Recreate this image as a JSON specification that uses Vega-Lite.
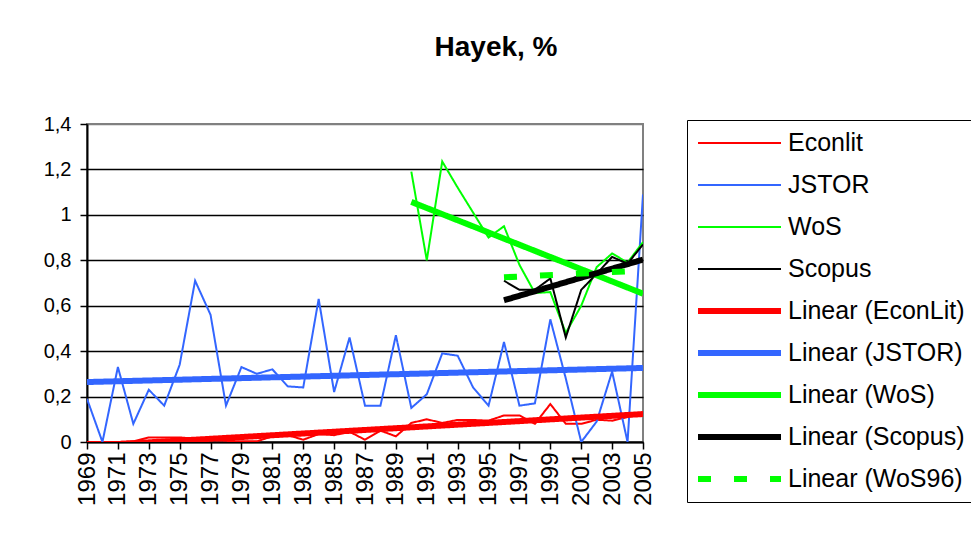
{
  "$schema": "https://vega.github.io/schema/vega-lite/v6.json",
  "autosize": "none",
  "width": 556,
  "height": 318,
  "padding": {"left": 87, "top": 124, "right": 328, "bottom": 93},
  "background": "white",
  "title": {"text": "Hayek, %", "fontSize": 28, "fontWeight": "bold", "font": "Liberation Sans", "anchor": "middle", "frame": "group", "dx": 131, "baseline": "alphabetic", "offset": 30, "color": "black"},
  "config": {
    "font": "Liberation Sans",
    "view": {"stroke": "#808080", "strokeWidth": 2},
    "axis": {"labelFont": "Liberation Sans", "labelColor": "black", "domainColor": "black", "domainWidth": 2, "tickColor": "black", "tickWidth": 1.5, "tickSize": 7}
  },
  "data": {"values": [
    {"year": 1969, "value": 0, "series": "Econlit"},
    {"year": 1970, "value": 0, "series": "Econlit"},
    {"year": 1971, "value": 0, "series": "Econlit"},
    {"year": 1972, "value": 0.003, "series": "Econlit"},
    {"year": 1973, "value": 0.02, "series": "Econlit"},
    {"year": 1974, "value": 0.02, "series": "Econlit"},
    {"year": 1975, "value": 0.02, "series": "Econlit"},
    {"year": 1976, "value": 0.015, "series": "Econlit"},
    {"year": 1977, "value": 0.01, "series": "Econlit"},
    {"year": 1978, "value": 0.005, "series": "Econlit"},
    {"year": 1979, "value": 0.003, "series": "Econlit"},
    {"year": 1980, "value": 0.003, "series": "Econlit"},
    {"year": 1981, "value": 0.025, "series": "Econlit"},
    {"year": 1982, "value": 0.03, "series": "Econlit"},
    {"year": 1983, "value": 0.01, "series": "Econlit"},
    {"year": 1984, "value": 0.035, "series": "Econlit"},
    {"year": 1985, "value": 0.03, "series": "Econlit"},
    {"year": 1986, "value": 0.045, "series": "Econlit"},
    {"year": 1987, "value": 0.01, "series": "Econlit"},
    {"year": 1988, "value": 0.05, "series": "Econlit"},
    {"year": 1989, "value": 0.025, "series": "Econlit"},
    {"year": 1990, "value": 0.084, "series": "Econlit"},
    {"year": 1991, "value": 0.1, "series": "Econlit"},
    {"year": 1992, "value": 0.084, "series": "Econlit"},
    {"year": 1993, "value": 0.097, "series": "Econlit"},
    {"year": 1994, "value": 0.097, "series": "Econlit"},
    {"year": 1995, "value": 0.094, "series": "Econlit"},
    {"year": 1996, "value": 0.117, "series": "Econlit"},
    {"year": 1997, "value": 0.117, "series": "Econlit"},
    {"year": 1998, "value": 0.08, "series": "Econlit"},
    {"year": 1999, "value": 0.167, "series": "Econlit"},
    {"year": 2000, "value": 0.08, "series": "Econlit"},
    {"year": 2001, "value": 0.08, "series": "Econlit"},
    {"year": 2002, "value": 0.098, "series": "Econlit"},
    {"year": 2003, "value": 0.094, "series": "Econlit"},
    {"year": 2004, "value": 0.11, "series": "Econlit"},
    {"year": 2005, "value": 0.128, "series": "Econlit"},
    {"year": 1969, "value": 0.19, "series": "JSTOR"},
    {"year": 1970, "value": 0, "series": "JSTOR"},
    {"year": 1971, "value": 0.33, "series": "JSTOR"},
    {"year": 1972, "value": 0.08, "series": "JSTOR"},
    {"year": 1973, "value": 0.23, "series": "JSTOR"},
    {"year": 1974, "value": 0.16, "series": "JSTOR"},
    {"year": 1975, "value": 0.34, "series": "JSTOR"},
    {"year": 1976, "value": 0.71, "series": "JSTOR"},
    {"year": 1977, "value": 0.56, "series": "JSTOR"},
    {"year": 1978, "value": 0.16, "series": "JSTOR"},
    {"year": 1979, "value": 0.33, "series": "JSTOR"},
    {"year": 1980, "value": 0.3, "series": "JSTOR"},
    {"year": 1981, "value": 0.32, "series": "JSTOR"},
    {"year": 1982, "value": 0.245, "series": "JSTOR"},
    {"year": 1983, "value": 0.24, "series": "JSTOR"},
    {"year": 1984, "value": 0.63, "series": "JSTOR"},
    {"year": 1985, "value": 0.22, "series": "JSTOR"},
    {"year": 1986, "value": 0.46, "series": "JSTOR"},
    {"year": 1987, "value": 0.16, "series": "JSTOR"},
    {"year": 1988, "value": 0.16, "series": "JSTOR"},
    {"year": 1989, "value": 0.47, "series": "JSTOR"},
    {"year": 1990, "value": 0.15, "series": "JSTOR"},
    {"year": 1991, "value": 0.21, "series": "JSTOR"},
    {"year": 1992, "value": 0.39, "series": "JSTOR"},
    {"year": 1993, "value": 0.38, "series": "JSTOR"},
    {"year": 1994, "value": 0.24, "series": "JSTOR"},
    {"year": 1995, "value": 0.16, "series": "JSTOR"},
    {"year": 1996, "value": 0.44, "series": "JSTOR"},
    {"year": 1997, "value": 0.16, "series": "JSTOR"},
    {"year": 1998, "value": 0.17, "series": "JSTOR"},
    {"year": 1999, "value": 0.54, "series": "JSTOR"},
    {"year": 2000, "value": 0.28, "series": "JSTOR"},
    {"year": 2001, "value": 0, "series": "JSTOR"},
    {"year": 2002, "value": 0.09, "series": "JSTOR"},
    {"year": 2003, "value": 0.31, "series": "JSTOR"},
    {"year": 2004, "value": 0, "series": "JSTOR"},
    {"year": 2005, "value": 1.09, "series": "JSTOR"},
    {"year": 1990, "value": 1.19, "series": "WoS"},
    {"year": 1991, "value": 0.8, "series": "WoS"},
    {"year": 1992, "value": 1.235, "series": "WoS"},
    {"year": 1993, "value": 1.12, "series": "WoS"},
    {"year": 1994, "value": 1.01, "series": "WoS"},
    {"year": 1995, "value": 0.9, "series": "WoS"},
    {"year": 1996, "value": 0.95, "series": "WoS"},
    {"year": 1997, "value": 0.78, "series": "WoS"},
    {"year": 1998, "value": 0.656, "series": "WoS"},
    {"year": 1999, "value": 0.66, "series": "WoS"},
    {"year": 2000, "value": 0.48, "series": "WoS"},
    {"year": 2001, "value": 0.6, "series": "WoS"},
    {"year": 2002, "value": 0.77, "series": "WoS"},
    {"year": 2003, "value": 0.83, "series": "WoS"},
    {"year": 2004, "value": 0.79, "series": "WoS"},
    {"year": 2005, "value": 0.88, "series": "WoS"},
    {"year": 1996, "value": 0.71, "series": "Scopus"},
    {"year": 1997, "value": 0.67, "series": "Scopus"},
    {"year": 1998, "value": 0.67, "series": "Scopus"},
    {"year": 1999, "value": 0.72, "series": "Scopus"},
    {"year": 2000, "value": 0.46, "series": "Scopus"},
    {"year": 2001, "value": 0.67, "series": "Scopus"},
    {"year": 2002, "value": 0.74, "series": "Scopus"},
    {"year": 2003, "value": 0.815, "series": "Scopus"},
    {"year": 2004, "value": 0.785, "series": "Scopus"},
    {"year": 2005, "value": 0.87, "series": "Scopus"},
    {"year": 1969, "value": -0.017, "series": "Linear (EconLit)"},
    {"year": 2005, "value": 0.123, "series": "Linear (EconLit)"},
    {"year": 1969, "value": 0.264, "series": "Linear (JSTOR)"},
    {"year": 2005, "value": 0.326, "series": "Linear (JSTOR)"},
    {"year": 1990, "value": 1.057, "series": "Linear (WoS)"},
    {"year": 2005, "value": 0.653, "series": "Linear (WoS)"},
    {"year": 1996, "value": 0.624, "series": "Linear (Scopus)"},
    {"year": 2005, "value": 0.803, "series": "Linear (Scopus)"},
    {"year": 1996, "value": 0.725, "series": "Linear (WoS96)"},
    {"year": 2005, "value": 0.755, "series": "Linear (WoS96)"}
  ]},
  "encoding": {
    "x": {"field": "year", "type": "quantitative", "scale": {"domain": [1969, 2005], "nice": false, "zero": false},
      "axis": {"title": null, "grid": false, "values": [1969,1971,1973,1975,1977,1979,1981,1983,1985,1987,1989,1991,1993,1995,1997,1999,2001,2003,2005], "format": "d", "labelAngle": -90, "labelFontSize": 24, "labelPadding": 3, "labelFlush": false, "labelOverlap": false}},
    "y": {"field": "value", "type": "quantitative", "scale": {"domain": [0, 1.4], "nice": false},
      "axis": {"title": null, "values": [0,0.2,0.4,0.6,0.8,1,1.2,1.4], "labelExpr": "replace(format(datum.value, '~g'), '.', ',')", "labelFontSize": 20, "labelPadding": 9, "grid": true, "gridColor": {"condition": {"test": "datum.value >= 1.39", "value": "#808080"}, "value": "black"}, "gridWidth": 1.3, "gridOpacity": 1}},
    "color": {"field": "series", "type": "nominal",
      "scale": {"domain": ["Econlit","JSTOR","WoS","Scopus","Linear (EconLit)","Linear (JSTOR)","Linear (WoS)","Linear (Scopus)","Linear (WoS96)"],
        "range": ["#FF0000","#3366FF","#00FF00","#000000","#FF0000","#3366FF","#00FF00","#000000","#00FF00"]},
      "legend": {"title": null, "orient": "none", "legendX": 600, "legendY": -4, "strokeColor": "black", "fillColor": "white", "padding": 8, "labelFontSize": 25, "labelFont": "Liberation Sans", "labelColor": "black", "labelLimit": 400, "symbolSize": 6889, "symbolType": "stroke", "clipHeight": 30, "rowPadding": 12, "labelOffset": 4}},
    "strokeWidth": {"field": "series", "type": "nominal",
      "scale": {"type": "ordinal", "domain": ["Econlit","JSTOR","WoS","Scopus","Linear (EconLit)","Linear (JSTOR)","Linear (WoS)","Linear (Scopus)","Linear (WoS96)"],
        "range": [2,2,2,2,6,6,6,6,6]}},
    "strokeDash": {"field": "series", "type": "nominal",
      "scale": {"domain": ["Econlit","JSTOR","WoS","Scopus","Linear (EconLit)","Linear (JSTOR)","Linear (WoS)","Linear (Scopus)","Linear (WoS96)"],
        "range": [[1,0],[1,0],[1,0],[1,0],[1,0],[1,0],[1,0],[1,0],[13,23]]}}
  },
  "layer": [
    {"transform": [{"filter": "indexof(datum.series, 'Linear') < 0"}], "mark": {"type": "line", "clip": true}},
    {"transform": [{"filter": "indexof(datum.series, 'Linear') >= 0"}], "mark": {"type": "line", "clip": true}}
  ]
}
